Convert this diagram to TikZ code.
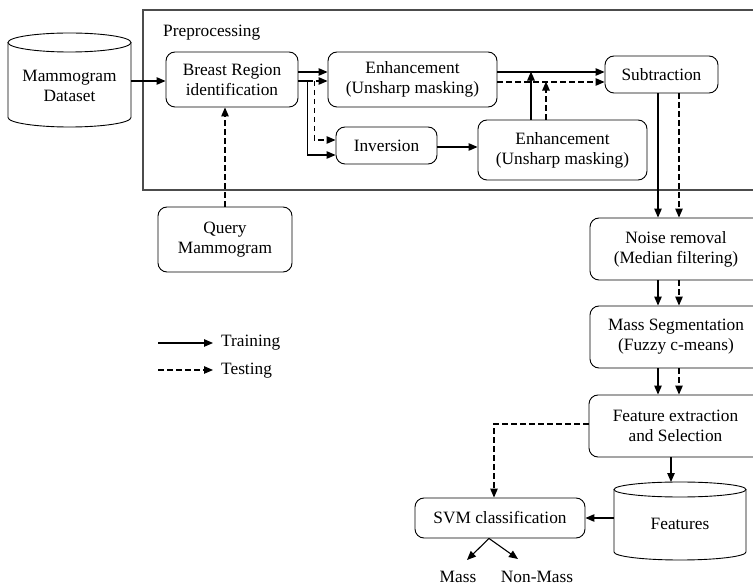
\documentclass[tikz,border=0pt]{standalone}
\usepackage{fontspec}
\setmainfont{Liberation Serif}
\usetikzlibrary{arrows.meta,calc}
\begin{document}
\begin{tikzpicture}[x=1pt,y=1pt,
  every node/.style={font=\fontsize{17.3}{20}\selectfont, inner sep=0pt},
  box/.style={draw, rounded corners=9pt, align=center, line width=0.9pt},
  arr/.style={line width=1.1pt, -{Triangle[length=9pt,width=7.5pt]}},
  dsh/.style={arr, dash pattern=on 5.5pt off 3.5pt},
  shp/.style={line width=0.9pt}]
\useasboundingbox (0,0) rectangle (753,-585);
\clip (0,0) rectangle (753,-585);

% Preprocessing frame
\draw[line width=1.2pt, black!70] (760,-10) -- (143,-10) -- (143,-190) -- (760,-190);
\node[anchor=west] (pre) at (163,-33) {Preprocessing};

% Mammogram dataset cylinder
\draw[shp] (8,-42.5) -- (8,-117.5) arc[start angle=180, end angle=360, x radius=61.5, y radius=9.5] -- (131,-42.5);
\draw[shp] (69.5,-42.5) ellipse [x radius=61.5, y radius=9.5];
\node[align=center, minimum width=123pt, minimum height=85pt] (mam) at (69.5,-86) {Mammogram\\Dataset};

% Features cylinder
\draw[shp] (614,-489.5) -- (614,-552) arc[start angle=180, end angle=360, x radius=66, y radius=8] -- (746,-489.5);
\draw[shp] (680,-489.5) ellipse [x radius=66, y radius=7.5];
\node[align=center, minimum width=132pt, minimum height=70pt] (feats) at (680,-524) {Features};
\coordinate (featstop) at (680,-482);

% Boxes
\node[box, minimum width=132pt, minimum height=55pt] (breast) at (232,-79.5) {Breast Region\\identification};
\node[box, minimum width=169pt, minimum height=55pt] (enh1) at (412.5,-79.5) {Enhancement\\(Unsharp masking)};
\node[box, minimum width=101pt, minimum height=37pt] (inv) at (386.5,-145.5) {Inversion};
\node[box, minimum width=169pt, minimum height=60pt] (enh2) at (562.5,-150) {Enhancement\\(Unsharp masking)};
\node[box, minimum width=113pt, minimum height=37pt] (sub) at (661.5,-74.5) {Subtraction};
\node[box, minimum width=134pt, minimum height=65pt] (query) at (225,-239.5) {Query\\Mammogram};
\node[box, minimum width=172pt, minimum height=62pt] (noise) at (676,-249) {Noise removal\\(Median filtering)};
\node[box, minimum width=172pt, minimum height=62pt] (mass) at (676,-337) {Mass Segmentation\\(Fuzzy c-means)};
\node[box, minimum width=173pt, minimum height=62pt] (feat) at (675.5,-426) {Feature extraction\\and Selection};
\node[box, minimum width=170pt, minimum height=40pt] (svm) at (500,-518) {SVM classification};
\node (massout) at (458,-576.5) {Mass};
\node (nonmassout) at (537,-576.5) {Non-Mass};

% Connectors
\coordinate (b1) at ([yshift=7.5pt]breast.east);
\coordinate (b2) at ([yshift=-1.5pt]breast.east);
\draw[arr] (mam.east |- b2) -- (b2 -| breast.west);
\draw[arr] (b1) -- (b1 -| enh1.west);
\draw[dsh] (b2) -- (b2 -| enh1.west);
\draw[arr] (b2) -- ++(9,0) |- ([yshift=-9.5pt]inv.west);
\draw[dsh] ([xshift=16pt]b2) |- ([yshift=5.5pt]inv.west);
\coordinate (i1) at ([yshift=-1.5pt]inv.east);
\draw[arr] (i1) -- (i1 -| enh2.west);
\draw[arr] ([xshift=-31.5pt]enh2.north) -- ++(0,48);
\draw[dsh] ([xshift=-16.5pt]enh2.north) -- ++(0,38);
\coordinate (e1) at ([yshift=7.5pt]enh1.east);
\coordinate (e2) at ([yshift=-2.5pt]enh1.east);
\draw[arr] (e1) -- (e1 -| sub.west);
\draw[dsh] (e2) -- (e2 -| sub.west);
\draw[dsh] (query.north) -- (query.north |- breast.south);

\draw[arr] ([xshift=-3.5pt]sub.south) -- ([xshift=-3.5pt]sub.south |- noise.north);
\draw[dsh] ([xshift=17.5pt]sub.south) -- ([xshift=17.5pt]sub.south |- noise.north);
\draw[arr] ([xshift=-18pt]noise.south) -- ([xshift=-18pt]mass.north);
\draw[dsh] ([xshift=3pt]noise.south) -- ([xshift=3pt]mass.north);
\draw[arr] ([xshift=-18pt]mass.south) -- ([xshift=-18pt]mass.south |- feat.north);
\draw[dsh] ([xshift=3pt]mass.south) -- ([xshift=3pt]mass.south |- feat.north);
\draw[arr] ([xshift=-4.5pt]feat.south) -- ([xshift=-9pt]featstop);
\draw[arr] (feats.west |- svm.east) -- (svm.east);
\draw[dsh] ([yshift=2pt]feat.west) -| ([xshift=-6pt]svm.north);
\coordinate (ma) at (467,-560);
\coordinate (na) at (518,-559);
\draw[arr] ([xshift=-11pt]svm.south) -- (ma);
\draw[arr] ([xshift=-11pt]svm.south) -- (na);

% Legend
\coordinate (la) at (158,-343);
\coordinate (lb) at (158,-370);
\node[anchor=west] (ltr) at (221,-343) {Training};
\node[anchor=west] (lte) at (221,-371) {Testing};
\draw[arr] (la) -- ([xshift=-8pt]ltr.west |- la);
\draw[dsh] (lb) -- ([xshift=-8pt]lte.west |- lb);
\end{tikzpicture}
\end{document}
